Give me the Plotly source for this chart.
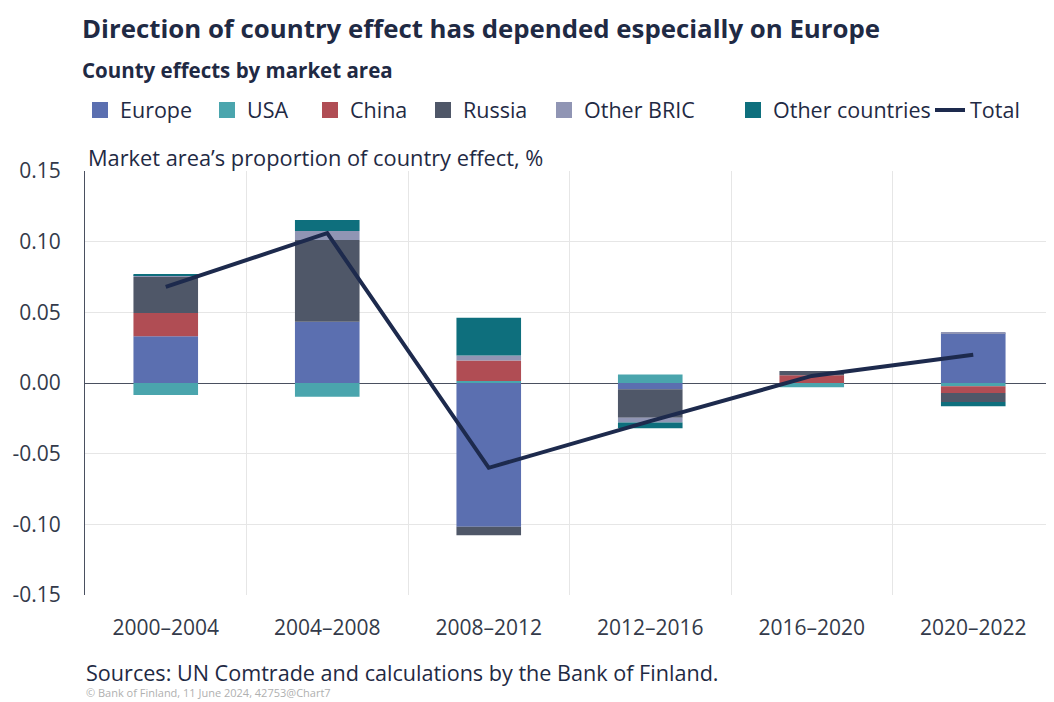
import plotly.graph_objects as go

periods = ["2000–2004", "2004–2008", "2008–2012", "2012–2016", "2016–2020", "2020–2022"]
europe = [0.033, 0.0434, -0.1017, -0.0045, 0.0, 0.0352]
usa = [-0.0085, -0.0097, 0.0014, 0.006, -0.003, -0.0023]
china = [0.0165, 0.0, 0.0146, 0.0, 0.0055, -0.0047]
russia = [0.0255, 0.0578, -0.006, -0.020, 0.003, -0.0064]
other_bric = [0.001, 0.0064, 0.0035, -0.0035, 0.0, 0.0008]
other_countries = [0.001, 0.0077, 0.0267, -0.004, 0.0, -0.003]
total = [0.068, 0.106, -0.060, -0.027, 0.005, 0.020]

y_ticks = [0.15, 0.10, 0.05, 0.0, -0.05, -0.10, -0.15]
y_tick_text = ["0.15", "0.10", "0.05", "0.00", "-0.05", "-0.10", "-0.15"]

series = [
    ("Europe", europe, "#5b6fb0"),
    ("USA", usa, "#4aa5ad"),
    ("China", china, "#b04d54"),
    ("Russia", russia, "#4f5768"),
    ("Other BRIC", other_bric, "#9095b4"),
    ("Other countries", other_countries, "#0e6f7d"),
]

OFF = 8  # page body margin
W, H = 1054 - OFF, 702 - OFF
# plot area in screen pixels: left 85, top 171, bottom 595, right 1054
ML, MT, MB, MR = 85 - OFF, 171 - OFF, H - (595 - OFF), 0
PW, PH = W - ML - MR, H - MT - MB

FONT = "Open Sans"
TXT = "#1f2a44"
TICK = "#333a4a"

# legend text start positions (screen px)
legend_text_x = [120, 247, 350, 463, 584, 773, 970]
legend_y = 110

fig = go.Figure()
for name, vals, col in series:
    fig.add_trace(go.Bar(x=periods, y=vals, name=name, showlegend=False,
                         marker=dict(color=col, line=dict(width=0))))
fig.add_trace(go.Scatter(x=periods, y=total, name="Total", mode="lines", showlegend=False,
                         line=dict(color="#1d2a4d", width=4)))

# legend entries
legends = {}
entries = [(n, c, "bar") for n, _, c in series] + [("Total", "#1d2a4d", "line")]
for i, (name, col, kind) in enumerate(entries):
    key = "legend" if i == 0 else f"legend{i+1}"
    if kind == "bar":
        fig.add_trace(go.Scatter(x=[None], y=[None], name=name, mode="markers", legend=key,
                                 marker=dict(symbol="square", size=17, color=col)))
    else:
        fig.add_trace(go.Scatter(x=[None], y=[None], name=name, mode="lines", legend=key,
                                 line=dict(color=col, width=4)))
    legends[key] = dict(
        x=(legend_text_x[i] - OFF - 40) / W, xref="container", xanchor="left",
        y=1 - (legend_y - OFF) / H, yref="container", yanchor="middle",
        orientation="h", font=dict(size=21.5, color=TXT, family=FONT),
        bgcolor="rgba(0,0,0,0)", borderwidth=0, itemwidth=30,
    )

fig.update_layout(
    width=W, height=H,
    margin=dict(l=ML, r=MR, t=MT, b=MB, autoexpand=False),
    barmode="relative", bargap=0.6,
    plot_bgcolor="white", paper_bgcolor="white",
    font=dict(family=FONT, color=TXT, size=20),
    showlegend=True,
    xaxis=dict(type="category", tickson="boundaries", showgrid=True, gridcolor="#e6e6e6",
               ticks="", tickfont=dict(size=21, color=TICK), ticklabelstandoff=18),
    yaxis=dict(range=[-0.15, 0.15], tickvals=y_ticks, ticktext=y_tick_text,
               showgrid=True, gridcolor="#e6e6e6", zeroline=True, zerolinecolor="#4a5060",
               zerolinewidth=1, showline=True, linecolor="#4a5060", linewidth=1,
               tickfont=dict(size=21, color=TICK), ticklabelstandoff=19),
    **legends,
)


def px_ann(text, x_px, y_px, size, color=TXT, anchor="middle"):
    # x_px, y_px in screen pixels (left edge of text, vertical anchor)
    return dict(text=text, x=(x_px - OFF - 2 - ML) / PW, y=(H - MB - (y_px - OFF)) / PH,
                xref="paper", yref="paper", showarrow=False,
                xanchor="left", yanchor=anchor,
                font=dict(size=size, color=color, family=FONT))


fig.update_layout(annotations=[
    px_ann("<b>Direction of country effect has depended especially on Europe</b>", 82, 8, 25.8, anchor="top"),
    px_ann("<b>County effects by market area</b>", 82, 70, 20.5),
    px_ann("Market area’s proportion of country effect, %", 88, 157, 21.8),
    px_ann("Sources: UN Comtrade and calculations by the Bank of Finland.", 86, 672, 21.6),
    px_ann("© Bank of Finland, 11 June 2024, 42753@Chart7", 86, 692, 11, "#b0b0b0"),
])

fig.write_html("out.html")
